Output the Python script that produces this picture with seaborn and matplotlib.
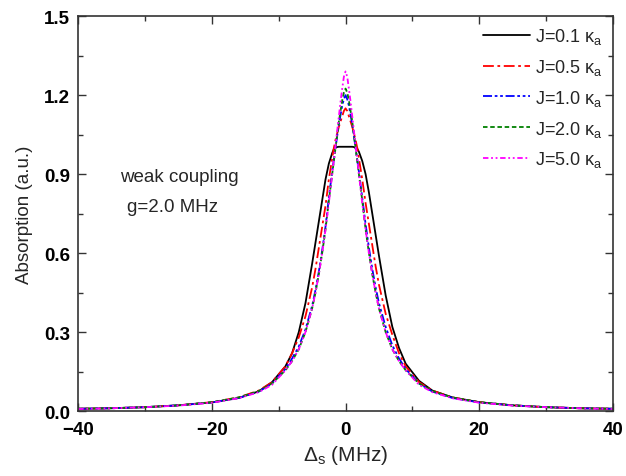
import matplotlib
matplotlib.use("Agg")
import matplotlib.pyplot as plt
import seaborn as sns

delta_s = [-40, -35, -30, -25, -20, -16, -13, -11, -9, -8, -7, -6, -5, -4.5, -4, -3.5, -3,
           -2.5, -2, -1.75, -1.5, -1.25, -1, -0.75, -0.5, -0.25, 0,
           0.25, 0.5, 0.75, 1, 1.25, 1.5, 1.75, 2, 2.5, 3, 3.5, 4, 4.5, 5, 6, 7, 8, 9,
           11, 13, 16, 20, 25, 30, 35, 40]

abs_j01 = [0.009, 0.011, 0.015, 0.022, 0.033, 0.050, 0.075, 0.11, 0.17, 0.22, 0.30, 0.41,
           0.56, 0.64, 0.72, 0.80, 0.88, 0.94, 0.98, 0.995, 1.0, 1.003, 1.004, 1.004,
           1.004, 1.004, 1.004,
           1.004, 1.004, 1.004, 1.004, 1.003, 1.0, 0.997, 0.985, 0.95, 0.90, 0.83, 0.75,
           0.67, 0.59, 0.44, 0.32, 0.24, 0.18, 0.115, 0.078, 0.052, 0.034, 0.022, 0.015,
           0.011, 0.009]

abs_j05 = [0.009, 0.011, 0.015, 0.022, 0.034, 0.052, 0.078, 0.11, 0.17, 0.22, 0.28, 0.36,
           0.47, 0.54, 0.62, 0.70, 0.78, 0.88, 0.96, 1.0, 1.03, 1.055, 1.08, 1.10, 1.12,
           1.14, 1.15,
           1.14, 1.12, 1.10, 1.08, 1.055, 1.03, 1.0, 0.96, 0.88, 0.79, 0.71, 0.63, 0.55,
           0.48, 0.37, 0.29, 0.22, 0.17, 0.11, 0.078, 0.052, 0.034, 0.022, 0.015, 0.011,
           0.009]

abs_j10 = [0.009, 0.011, 0.015, 0.022, 0.033, 0.050, 0.074, 0.105, 0.16, 0.20, 0.245, 0.31,
           0.40, 0.46, 0.53, 0.61, 0.70, 0.81, 0.91, 0.955, 1.0, 1.045, 1.09, 1.125, 1.16,
           1.185, 1.20,
           1.185, 1.16, 1.125, 1.09, 1.045, 1.0, 0.955, 0.91, 0.81, 0.71, 0.62, 0.54,
           0.47, 0.41, 0.32, 0.25, 0.20, 0.16, 0.105, 0.074, 0.050, 0.033, 0.022, 0.015,
           0.011, 0.009]

abs_j20 = [0.009, 0.011, 0.015, 0.022, 0.034, 0.052, 0.076, 0.105, 0.155, 0.19, 0.235, 0.30,
           0.39, 0.45, 0.52, 0.60, 0.69, 0.80, 0.90, 0.95, 1.0, 1.05, 1.10, 1.14, 1.18,
           1.21, 1.225,
           1.21, 1.18, 1.14, 1.10, 1.05, 1.0, 0.95, 0.90, 0.80, 0.69, 0.60, 0.52, 0.45,
           0.39, 0.30, 0.235, 0.19, 0.155, 0.105, 0.076, 0.052, 0.034, 0.022, 0.015,
           0.011, 0.009]

abs_j50 = [0.008, 0.011, 0.015, 0.021, 0.032, 0.049, 0.072, 0.10, 0.155, 0.19, 0.235, 0.30,
           0.39, 0.45, 0.52, 0.60, 0.69, 0.79, 0.90, 0.955, 1.01, 1.065, 1.12, 1.175,
           1.225, 1.27, 1.29,
           1.27, 1.225, 1.175, 1.12, 1.065, 1.01, 0.955, 0.90, 0.79, 0.69, 0.60, 0.52,
           0.45, 0.39, 0.30, 0.235, 0.19, 0.155, 0.10, 0.072, 0.049, 0.032, 0.021, 0.015,
           0.011, 0.008]

labels = [r'J=0.1 $\kappa_a$', r'J=0.5 $\kappa_a$', r'J=1.0 $\kappa_a$',
          r'J=2.0 $\kappa_a$', r'J=5.0 $\kappa_a$']
colors = ['black', '#ff0000', '#0000ff', '#008000', '#ff00ff']
styles = ['-', (0, (6, 2, 1.5, 2)), (0, (5, 1.5, 1.5, 1.5, 1.5, 1.5)),
          (0, (2.5, 1.5)), (0, (3, 1.5, 1, 1.5, 1, 1.5))]


def make_plot():
    sns.set_style('ticks')
    plt.rcParams['font.family'] = ['Liberation Sans', 'DejaVu Sans']
    plt.rcParams['mathtext.fontset'] = 'custom'
    plt.rcParams['mathtext.rm'] = 'Liberation Sans'
    plt.rcParams['mathtext.it'] = 'Liberation Sans'

    fig = plt.figure(figsize=(6.26, 4.77), dpi=100)
    ax = fig.add_axes([0.125, 0.136, 0.854, 0.828])

    series = [abs_j01, abs_j05, abs_j10, abs_j20, abs_j50]
    for y, lab, c, ls in zip(series, labels, colors, styles):
        sns.lineplot(x=delta_s, y=y, ax=ax, color=c, linestyle=ls,
                     linewidth=1.3, label=lab)

    ax.set_xlim(-40, 40)
    ax.set_ylim(0, 1.5)
    ax.set_xticks([-40, -20, 0, 20, 40])
    ax.set_xticks([-30, -10, 10, 30], minor=True)
    ax.set_yticks([0.0, 0.3, 0.6, 0.9, 1.2, 1.5])
    ax.set_yticks([0.15, 0.45, 0.75, 1.05, 1.35], minor=True)
    ax.set_yticklabels(['0.0', '0.3', '0.6', '0.9', '1.2', '1.5'])

    ax.tick_params(which='both', direction='in', top=True, right=True,
                   colors='#333333', labelcolor='black')
    ax.tick_params(which='major', length=6, width=1.0, labelsize=13.5)
    ax.tick_params(axis='x', which='major', pad=7)
    ax.tick_params(axis='y', which='major', pad=6)
    ax.tick_params(which='minor', length=3.5, width=1.0)
    for lbl in ax.get_xticklabels() + ax.get_yticklabels():
        lbl.set_fontweight('bold')
    for s in ax.spines.values():
        s.set_color('#333333')
        s.set_linewidth(1.2)

    ax.set_xlabel(r'$\Delta_s$ (MHz)', fontsize=15, labelpad=4)
    ax.set_ylabel('Absorption (a.u.)', fontsize=13.5, labelpad=8)

    ax.text(-33.7, 0.875, 'weak coupling', fontsize=13.5, va='baseline')
    ax.text(-32.7, 0.761, 'g=2.0 MHz', fontsize=13.5, va='baseline')

    ax.legend(loc='upper right', frameon=False, fontsize=13, handlelength=2.6,
              labelspacing=0.6, borderaxespad=0.15, handletextpad=0.3)

    fig.savefig('out.png', dpi=100)
    plt.close(fig)


if __name__ == "__main__":
    make_plot()
